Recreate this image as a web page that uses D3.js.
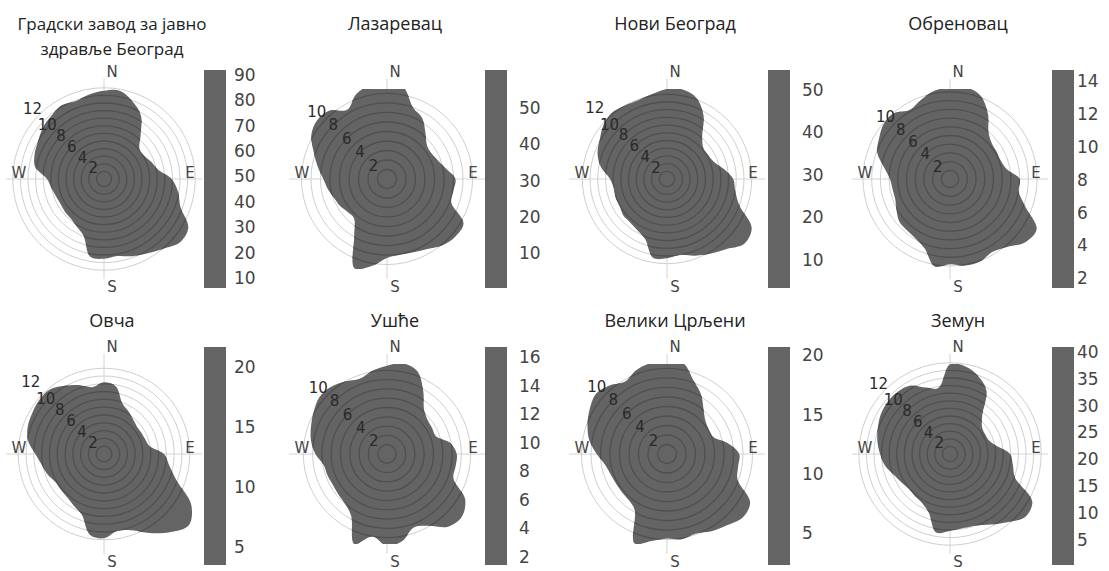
<!DOCTYPE html>
<html><head><meta charset="utf-8">
<script src="https://cdn.jsdelivr.net/npm/d3@7"></script>
<style>body{margin:0;background:#fff}svg{display:block}</style>
</head><body><svg id="c" width="1109" height="571"></svg>
<script>
// ---------- data ----------
const stations = ["Градски завод за јавно здравље Београд","Лазаревац","Нови Београд","Обреновац","Овча","Ушће","Велики Црљени","Земун"];
const titleLines = [["Градски завод за јавно","здравље Београд"],["Лазаревац"],["Нови Београд"],["Обреновац"],["Овча"],["Ушће"],["Велики Црљени"],["Земун"]];
const directions = [0,10,20,30,40,50,60,70,80,90,100,110,120,130,140,150,160,170,180,190,200,210,220,230,240,250,260,270,280,290,300,310,320,330,340,350];
// outer reach of the surface (wind speed units) per direction
const reachGZZJZB = [11.6,11.8,10.9,9.7,7.5,6.1,6.1,6.6,7.2,8.9,9.9,10.7,12.8,13.0,12.0,11.3,10.8,10.3,10.5,10.4,7.9,7.2,6.8,6.7,6.6,6.7,7.0,7.5,9.2,9.7,10.0,10.5,10.8,11.2,10.9,11.3];
const reachLazarevac = [9.7,9.8,8.0,7.4,6.3,5.5,5.4,5.7,6.3,7.2,7.1,7.2,9.3,9.4,9.1,8.5,8.2,8.1,8.3,9.3,10.0,6.9,5.4,5.4,5.7,5.9,6.3,6.7,7.4,8.2,9.2,9.6,9.4,8.4,9.5,10.0];
const reachNoviBeograd = [11.7,11.8,11.2,9.5,7.1,6.2,6.2,6.5,7.5,8.6,9.0,10.0,12.7,13.1,11.9,11.2,10.6,10.0,10.3,10.4,8.3,7.7,7.4,7.4,7.1,7.1,7.0,7.4,8.7,9.6,10.1,10.8,11.2,11.0,10.9,11.2];
const reachObrenovac = [10.5,10.7,10.2,8.7,6.9,6.3,6.2,6.2,6.6,8.0,8.0,9.2,11.5,11.3,10.2,9.7,10.1,10.1,9.8,10.2,8.5,7.9,7.7,7.6,7.1,6.7,6.7,6.9,7.7,8.9,9.4,9.9,9.9,9.2,9.7,10.3];
const reachOvca = [9.2,8.8,6.9,6.3,5.8,5.5,5.5,5.6,5.9,7.7,8.5,9.9,12.9,14.2,13.1,11.7,10.4,10.0,10.8,10.5,8.3,7.7,7.3,7.2,7.2,7.7,8.1,8.8,9.9,10.4,10.6,10.8,10.8,10.1,9.4,8.7];
const reachUsce = [9.5,9.9,9.5,7.8,6.2,5.7,5.6,5.6,6.9,7.5,7.5,7.6,9.7,10.5,10.2,8.9,8.4,9.5,9.9,9.0,10.3,7.7,7.0,6.8,6.7,6.8,6.9,7.7,8.3,8.7,9.1,9.5,9.4,9.0,8.6,9.1];
const reachVelikiCrljeni = [9.5,9.7,8.2,7.2,6.0,5.3,5.1,5.2,6.5,7.6,7.6,7.9,10.1,10.4,9.8,9.4,8.9,9.1,8.9,9.3,10.0,6.8,6.3,6.2,6.2,6.3,6.6,7.4,8.3,8.9,9.4,9.8,9.4,8.8,9.4,9.7];
const reachZemun = [11.8,11.7,10.9,9.6,6.6,5.5,5.3,5.4,6.2,7.9,8.4,9.1,12.5,12.9,11.7,10.7,10.0,9.9,10.1,10.5,8.2,7.4,7.2,7.1,7.4,7.9,8.7,9.2,9.7,10.1,10.5,10.7,10.7,10.4,9.3,8.8];
const reaches = [reachGZZJZB,reachLazarevac,reachNoviBeograd,reachObrenovac,reachOvca,reachUsce,reachVelikiCrljeni,reachZemun];
// wind speed axis (upper limit) and its labels
const wsUpper = [11.84,9.47,11.69,10.34,11.54,9.68,9.47,11.84];
const wsLabels = [[2,4,6,8,10,12],[2,4,6,8,10],[2,4,6,8,10,12],[2,4,6,8,10],[2,4,6,8,10,12],[2,4,6,8,10],[2,4,6,8,10],[2,4,6,8,10,12]];
// colour key ranges and ticks
const keyDomain = [[6,92],[0.4,60.5],[3.4,54.7],[1.4,14.7],[3.5,21.7],[1.44,16.7],[2.3,20.7],[0.3,40.9]];
const keyTicks = [[10,20,30,40,50,60,70,80,90],[10,20,30,40,50],[10,20,30,40,50],[2,4,6,8,10,12,14],[5,10,15,20],[2,4,6,8,10,12,14,16],[5,10,15,20],[5,10,15,20,25,30,35,40]];
const compass = [["N",0],["E",90],["S",180],["W",270]];

// ---------- layout ----------
const colX = [104,387,667,950];
const rowY = [179,454];
const barX = [204,485,768,1052];
const labX = [234,519,802,1077];
const barTop = [70,347], barBot = [288,565];
const titleY = [30,327];
const R = 90;
const fill = "#646464";

const svg = d3.select("#c");
const defs = svg.append("defs");

stations.forEach((name,i)=>{
  const col = i%4, row = Math.floor(i/4);
  const cx = colX[col], cy = rowY[row];
  const r = d3.scaleLinear().domain([0,wsUpper[i]]).range([0,R]);
  const g = svg.append("g");

  // title
  const t = g.append("text").attr("x",cx+8).attr("y",titleY[row])
    .attr("text-anchor","middle").attr("font-family","'Open Sans',sans-serif")
    .attr("font-size",titleLines[i].length>1?17:18).attr("fill","#222");
  titleLines[i].forEach((ln,k)=>t.append("tspan").attr("x",cx+8).attr("dy",k?25:0).text(ln));

  const p = g.append("g").attr("transform",`translate(${cx},${cy})`);
  const rings = d3.range(1,Math.floor(wsUpper[i])+2).filter(v=>r(v)<=92);

  // axes + grid
  p.append("line").attr("x1",0).attr("x2",0).attr("y1",-100).attr("y2",100).attr("stroke","#d4d4d4");
  p.append("line").attr("x1",-98).attr("x2",98).attr("y1",0).attr("y2",0).attr("stroke","#d4d4d4");
  p.selectAll("circle.ring").data(rings).join("circle").attr("class","ring")
    .attr("r",d=>r(d)).attr("fill","none").attr("stroke","#cfcfcf").attr("stroke-width",1);

  // surface
  const pts = directions.map((d,k)=>({a:d,v:reaches[i][k]}));
  const line = d3.lineRadial().angle(d=>d.a*Math.PI/180).radius(d=>r(d.v))
    .curve(d3.curveCatmullRomClosed.alpha(0.5));
  const sq = "sq"+i, bl = "bl"+i;
  defs.append("clipPath").attr("id",sq).append("rect")
    .attr("x",cx-R).attr("y",cy-R).attr("width",2*R).attr("height",2*R);
  defs.append("clipPath").attr("id",bl).append("path")
    .attr("transform",`translate(${cx},${cy})`).attr("d",line(pts));
  const sg = g.append("g").attr("clip-path",`url(#${sq})`);
  sg.append("path").attr("transform",`translate(${cx},${cy})`).attr("d",line(pts)).attr("fill",fill);
  sg.append("g").attr("clip-path",`url(#${bl})`)
    .selectAll("circle").data(rings).join("circle")
    .attr("cx",cx).attr("cy",cy).attr("r",d=>r(d))
    .attr("fill","none").attr("stroke","#505050").attr("stroke-width",1.3);

  const q = g.append("g").attr("transform",`translate(${cx},${cy})`);
  // ring labels
  q.selectAll("text.ws").data(wsLabels[i]).join("text").attr("class","ws")
    .attr("x",d=>-r(d)*Math.SQRT1_2 - (d>=12?7:(d>=10?3:0)))
    .attr("y",d=>-r(d)*Math.SQRT1_2 - (d>=12?6:0))
    .attr("text-anchor","middle").attr("dominant-baseline","central")
    .attr("font-family","'DejaVu Sans',sans-serif").attr("font-size",15).attr("fill","#2a2a2a")
    .text(d=>d);

  // compass labels
  q.selectAll("text.cmp").data(compass).join("text").attr("class","cmp")
    .attr("x",d=>d[1]===0||d[1]===180?8:(d[1]===90?86:-85))
    .attr("y",d=>d[1]===0?-107:(d[1]===180?108:-6))
    .attr("text-anchor","middle").attr("dominant-baseline","central")
    .attr("font-family","'DejaVu Sans',sans-serif").attr("font-size",15).attr("fill","#444")
    .text(d=>d[0]);

  // colour key
  const ky = d3.scaleLinear().domain(keyDomain[i]).range([barBot[row],barTop[row]]);
  g.append("rect").attr("x",barX[col]).attr("width",22)
    .attr("y",ky(keyDomain[i][1])).attr("height",ky(keyDomain[i][0])-ky(keyDomain[i][1]))
    .attr("fill",fill);
  g.selectAll("text.key").data(keyTicks[i]).join("text").attr("class","key")
    .attr("x",labX[col]).attr("y",d=>ky(d)).attr("dominant-baseline","central")
    .attr("font-family","'DejaVu Sans',sans-serif").attr("font-size",17).attr("fill","#444")
    .text(d=>d);
});
</script></body></html>
